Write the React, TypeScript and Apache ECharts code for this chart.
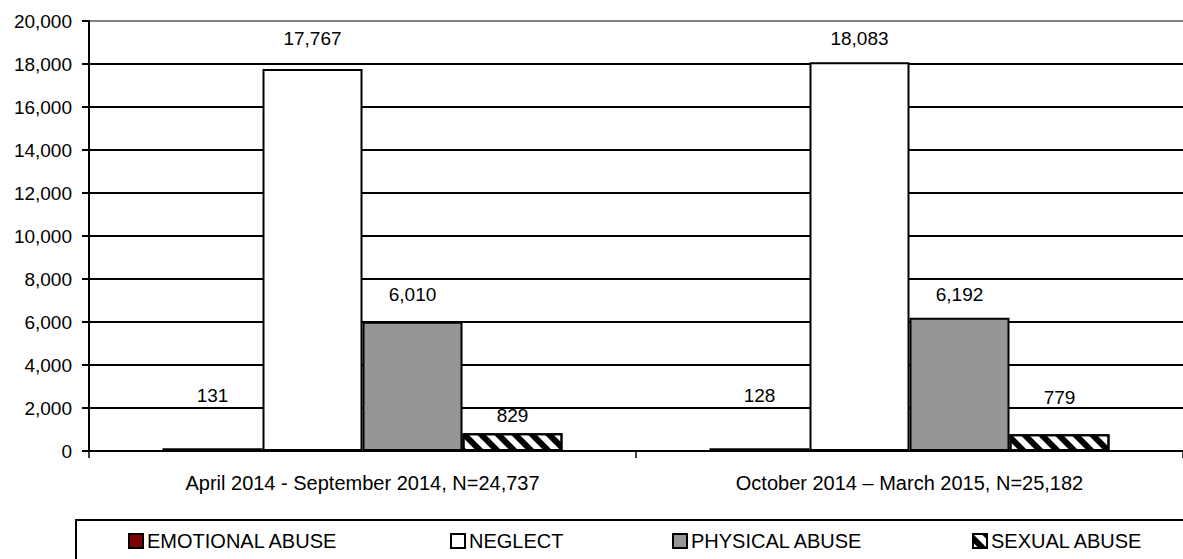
import React, { useEffect, useRef } from "react";
import * as echarts from "echarts";

const categories = [
  "April 2014 - September 2014, N=24,737",
  "October 2014 \u2013 March 2015, N=25,182",
];
const seriesNames = ["EMOTIONAL ABUSE", "NEGLECT", "PHYSICAL ABUSE", "SEXUAL ABUSE"];
const emotional = [131, 128];
const neglect = [17767, 18083];
const physical = [6010, 6192];
const sexual = [829, 779];
const yTicks = { min: 0, max: 20000, interval: 2000 };
// extra vertical label lift (px) per series & category, as in the reference
const labelLift = [
  [38, 38],
  [16, 9],
  [13, 9],
  [3, 22],
];

export default function App() {
  const ref = useRef<HTMLDivElement>(null);
  useEffect(() => {
    const chart = echarts.init(ref.current!, null, { renderer: "svg" });
    const font = "'Liberation Sans', Arial, sans-serif";
    const values = [emotional, neglect, physical, sexual];
    const colors = ["#800000", "#ffffff", "#969696", "#ffffff"];
    const series = values.map((vals, si) => ({
      name: seriesNames[si],
      type: "bar",
      barWidth: 100,
      barGap: "0%",
      data: vals.map((v, ci) => ({
        value: v,
        label: { offset: [0, -labelLift[si][ci]] },
      })),
      itemStyle: {
        color: colors[si],
        borderColor: "#000",
        borderWidth: 2,
        ...(si === 3
          ? {
              decal: {
                symbol: "rect",
                color: "#000",
                backgroundColor: "#fff",
                dashArrayX: [1, 0],
                dashArrayY: [6, 6],
                rotation: Math.PI / 4,
                symbolSize: 1,
              },
            }
          : {}),
      },
      label: {
        show: true,
        position: "top",
        color: "#000",
        fontSize: 19,
        fontFamily: font,
        formatter: (p: any) => Number(p.value).toLocaleString("en-US"),
      },
    }));
    const legendX = [128, 450, 672, 972];
    const legends = seriesNames.map((n, i) => ({
      data: [{ name: n, icon: "rect" }],
      left: legendX[i],
      top: 531,
      itemWidth: 14,
      itemHeight: 14,
      itemGap: 0,
      padding: 0,
      selectedMode: false,
      itemStyle: { borderColor: "#000", borderWidth: 2 },
      textStyle: { fontSize: 20, fontFamily: font, color: "#000", padding: [0, 0, 0, -1] },
    }));
    chart.setOption({
      animation: false,
      aria: { enabled: false, decal: { show: false } },
      grid: { left: 89, top: 21, right: 0, bottom: 108, containLabel: false },
      legend: legends,
      graphic: [
        {
          type: "rect",
          shape: { x: 76, y: 520, width: 1200, height: 60 },
          style: { fill: "none", stroke: "#000", lineWidth: 2 },
          silent: true,
        },
      ],
      xAxis: {
        type: "category",
        data: categories,
        axisLine: { lineStyle: { color: "#000", width: 2 } },
        axisTick: { show: true, length: 7, lineStyle: { color: "#000", width: 1.5 } },
        axisLabel: { color: "#000", fontSize: 20, fontFamily: font, margin: 22 },
      },
      yAxis: {
        type: "value",
        min: yTicks.min,
        max: yTicks.max,
        interval: yTicks.interval,
        axisLine: { show: true, lineStyle: { color: "#000", width: 2 } },
        axisTick: { show: true, length: 7, lineStyle: { color: "#000", width: 2 } },
        axisLabel: {
          color: "#000",
          fontSize: 19,
          fontFamily: font,
          margin: 17,
          formatter: (v: number) => v.toLocaleString("en-US"),
        },
        splitLine: {
          show: true,
          lineStyle: {
            width: 2,
            color: ["#000", "#000", "#000", "#000", "#000", "#000", "#000", "#000", "#000", "#000", "#808080"],
          },
        },
      },
      series,
    });
    return () => chart.dispose();
  }, []);
  return (
    <div
      ref={ref}
      style={{ position: "fixed", left: 0, top: 0, width: 1183, height: 559, background: "#fff" }}
    />
  );
}
